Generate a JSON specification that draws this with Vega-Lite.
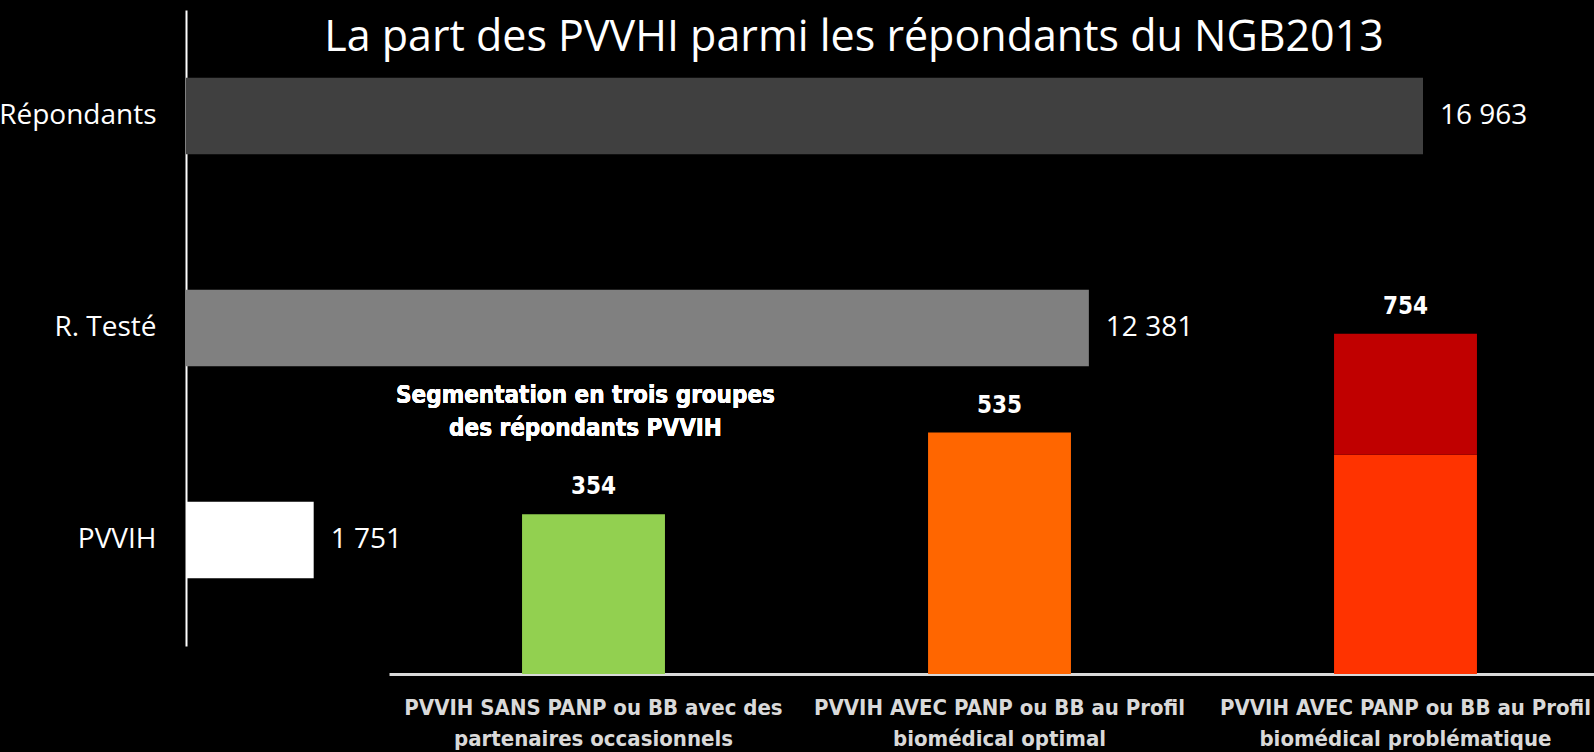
{
  "$schema": "https://vega.github.io/schema/vega-lite/v6.json",
  "width": 1594,
  "height": 752,
  "autosize": {"type": "none"},
  "padding": 0,
  "background": "black",
  "config": {
    "view": {"stroke": null},
    "locale": {"number": {"decimal": ",", "thousands": " ", "grouping": [3], "currency": ["", " €"]}}
  },
  "title": {
    "text": "La part des PVVHI parmi les répondants du NGB2013",
    "color": "white",
    "font": "Open Sans",
    "fontSize": 43,
    "fontWeight": "normal",
    "anchor": "middle",
    "frame": "group",
    "offset": -60,
    "dx": 57
  },
  "layer": [
    {
      "data": {"values": [
        {"categorie": "Répondants", "n": 16963},
        {"categorie": "R. Testé", "n": 12381},
        {"categorie": "PVVIH", "n": 1751}
      ]},
      "encoding": {
        "y": {
          "field": "categorie", "type": "nominal",
          "sort": ["Répondants", "R. Testé", "PVVIH"],
          "scale": {"range": [10, 646], "paddingInner": 0.64, "paddingOuter": 0.32},
          "axis": {
            "orient": "left", "offset": -186, "title": null,
            "domainColor": "white", "domainWidth": 2, "ticks": false,
            "labelPadding": 30, "labelColor": "white", "labelFont": "Open Sans",
            "labelFontSize": 28, "labelLimit": 0
          }
        },
        "x": {
          "field": "n", "type": "quantitative",
          "scale": {"domain": [0, 16963], "range": [186, 1423], "nice": false},
          "axis": null
        }
      },
      "layer": [
        {
          "mark": {"type": "bar"},
          "encoding": {
            "color": {
              "field": "categorie", "type": "nominal",
              "scale": {"domain": ["Répondants", "R. Testé", "PVVIH"], "range": ["#404040", "#808080", "#FFFFFF"]},
              "legend": null
            }
          }
        },
        {
          "mark": {"type": "text", "align": "left", "baseline": "middle", "dx": 17, "font": "Open Sans", "fontSize": 28, "color": "white"},
          "encoding": {"text": {"field": "n", "type": "quantitative", "format": ",d"}}
        }
      ]
    },
    {
      "data": {"values": [
        {"groupe": "PVVIH SANS PANP ou BB avec des|partenaires occasionnels", "segment": "occasionnels", "n": 354, "ordre": 1},
        {"groupe": "PVVIH AVEC PANP ou BB au Profil|biomédical optimal", "segment": "optimal", "n": 535, "ordre": 1},
        {"groupe": "PVVIH AVEC PANP ou BB au Profil|biomédical problématique", "segment": "problématique (bas)", "n": 486, "ordre": 1},
        {"groupe": "PVVIH AVEC PANP ou BB au Profil|biomédical problématique", "segment": "problématique (haut)", "n": 268, "ordre": 2}
      ]},
      "encoding": {
        "x": {
          "field": "groupe", "type": "nominal", "sort": null,
          "scale": {"range": [389, 1594], "paddingInner": 0.648, "paddingOuter": 0.308, "align": 0.532},
          "axis": {
            "orient": "bottom", "offset": -78, "title": null,
            "domainColor": "#D9D9D9", "domainWidth": 3, "ticks": false,
            "labelExpr": "split(datum.value, '|')",
            "labelAngle": 0, "labelPadding": 23, "labelBaseline": "top",
            "labelColor": "#D9D9D9", "labelFont": "DejaVu Sans Condensed", "labelFontWeight": "bold",
            "labelFontSize": 22, "labelLineHeight": 31, "labelLimit": 0
          }
        },
        "y": {
          "field": "n", "type": "quantitative",
          "scale": {"domain": [0, 1000], "range": [674, 222.8], "nice": false},
          "axis": null
        }
      },
      "layer": [
        {
          "mark": {"type": "bar"},
          "encoding": {
            "color": {
              "field": "segment", "type": "nominal",
              "scale": {"domain": ["occasionnels", "optimal", "problématique (bas)", "problématique (haut)"], "range": ["#92D050", "#FF6600", "#FF3300", "#C00000"]},
              "legend": null
            },
            "order": {"field": "ordre", "type": "quantitative"}
          }
        },
        {
          "transform": [{"aggregate": [{"op": "sum", "field": "n", "as": "total"}], "groupby": ["groupe"]}],
          "mark": {"type": "text", "baseline": "bottom", "dy": -15, "font": "DejaVu Sans Condensed", "fontWeight": "bold", "fontSize": 24, "color": "white"},
          "encoding": {
            "y": {"field": "total", "type": "quantitative"},
            "text": {"field": "total", "type": "quantitative", "format": "d"}
          }
        },
        {
          "mark": {"type": "text", "text": ["Segmentation en trois groupes", "des répondants PVVIH"], "baseline": "alphabetic", "lineHeight": 33, "dx": -8, "font": "DejaVu Sans Condensed", "fontWeight": "bold", "fontSize": 24, "color": "white"},
          "encoding": {
            "x": {"datum": "PVVIH SANS PANP ou BB avec des|partenaires occasionnels"},
            "y": {"datum": 601}
          }
        }
      ]
    }
  ],
  "resolve": {
    "scale": {"x": "independent", "y": "independent", "color": "independent"},
    "axis": {"x": "independent", "y": "independent"}
  }
}
